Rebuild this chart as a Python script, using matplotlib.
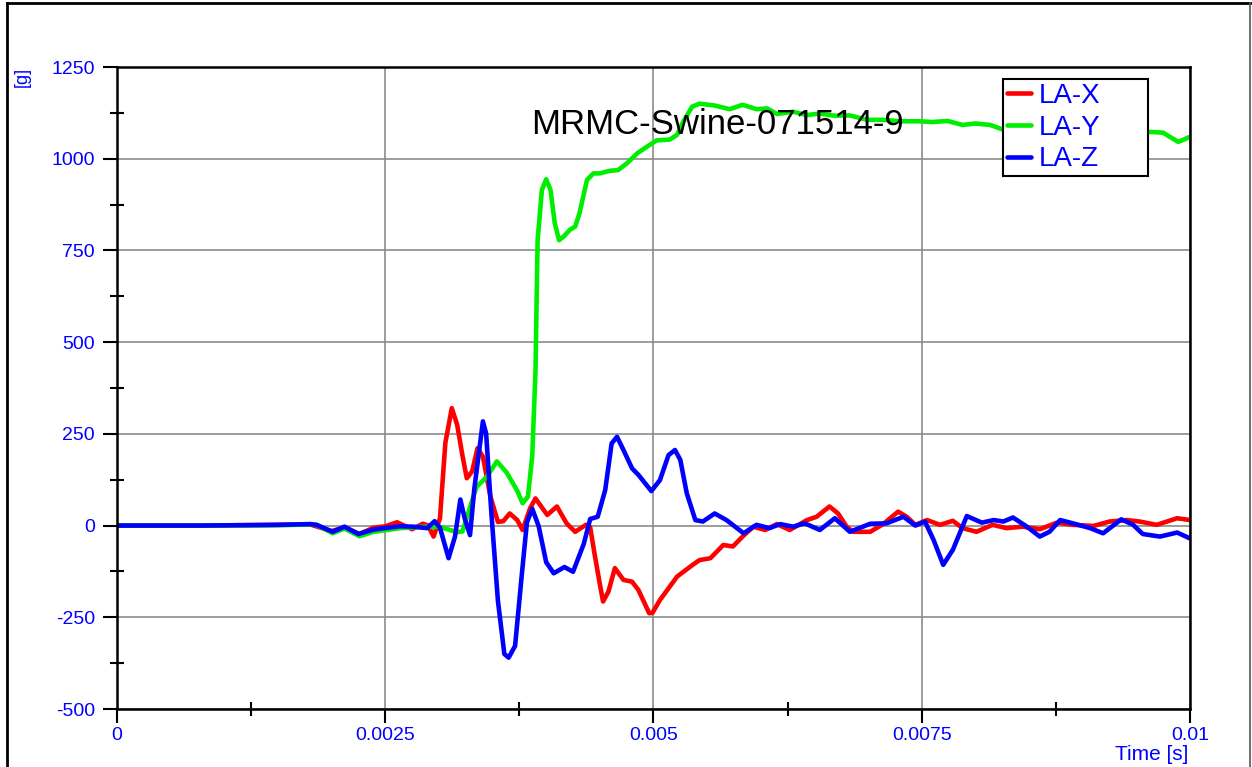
import numpy as np
import matplotlib
matplotlib.use("Agg")
import matplotlib.pyplot as plt
from matplotlib.lines import Line2D
from matplotlib.ticker import MultipleLocator, FuncFormatter

plt.rcParams['font.family'] = ['Liberation Sans', 'DejaVu Sans']
plt.rcParams['axes.unicode_minus'] = False

# --- data (time in ms, acceleration in g) ---
t_x = [0, 0.77, 1.50, 1.80, 2.00, 2.12, 2.26, 2.39, 2.50, 2.61, 2.75, 2.85, 2.90, 2.95,
       3.01, 3.06, 3.12, 3.17, 3.22, 3.26, 3.31, 3.36, 3.41, 3.48, 3.55, 3.60, 3.66, 3.73,
       3.78, 3.85, 3.90, 4.01, 4.10, 4.19, 4.27, 4.37, 4.41, 4.45, 4.50, 4.53, 4.58, 4.64,
       4.72, 4.80, 4.86, 4.96, 4.99, 5.06, 5.22, 5.37, 5.43, 5.53, 5.65, 5.74, 5.83, 5.93,
       6.04, 6.15, 6.27, 6.43, 6.52, 6.64, 6.72, 6.80, 6.86, 7.02, 7.14, 7.28, 7.36, 7.44,
       7.55, 7.67, 7.79, 7.88, 8.01, 8.16, 8.29, 8.44, 8.60, 8.76, 8.91, 9.10, 9.25, 9.41,
       9.53, 9.69, 9.88, 10.0]
la_x = [0, 0, 2, 3, -15, -5, -23, -6, -2, 9, -10, 5, 0, -30,
        20, 225, 320, 275, 190, 129, 148, 211, 188, 79, 10, 12, 33, 15,
        -12, 47, 74, 29, 52, 6, -17, 2, -5, -76, -160, -207, -180, -116,
        -148, -153, -176, -239, -238, -203, -139, -106, -94, -89, -53, -57, -30, -3,
        -12, 4, -12, 15, 24, 52, 33, -3, -17, -17, 4, 38, 24, 2,
        15, 2, 13, -7, -17, 2, -7, -3, -10, 8, 2, -1, 11, 15,
        11, 2, 20, 15]

t_y = [0, 0.77, 1.52, 1.80, 1.86, 2.01, 2.12, 2.26, 2.39, 2.52, 2.64, 2.89, 3.01, 3.08,
       3.17, 3.22, 3.29, 3.35, 3.45, 3.54, 3.63, 3.73, 3.78, 3.83, 3.87, 3.90, 3.92, 3.96,
       4.00, 4.04, 4.08, 4.12, 4.16, 4.22, 4.27, 4.31, 4.38, 4.44, 4.50, 4.59, 4.67, 4.75,
       4.85, 4.94, 5.03, 5.15, 5.22, 5.27, 5.36, 5.43, 5.57, 5.71, 5.83, 5.96, 6.06, 6.15,
       6.30, 6.43, 6.55, 6.69, 6.83, 6.99, 7.14, 7.30, 7.48, 7.60, 7.74, 7.88, 8.00, 8.14,
       8.27, 8.70, 9.16, 9.63, 9.75, 9.81, 9.89, 9.95, 10.0]
la_y = [0, 0, 1, 3, 2, -21, -8, -29, -17, -12, -7, -3, -4, -10,
        -18, -16, 50, 105, 134, 175, 145, 95, 61, 79, 190, 420, 778, 915,
        944, 915, 824, 778, 787, 806, 815, 851, 942, 960, 960, 967, 969, 987,
        1015, 1033, 1050, 1052, 1065, 1097, 1142, 1150, 1145, 1135, 1147, 1135, 1137, 1122,
        1128, 1119, 1123, 1117, 1118, 1106, 1106, 1102, 1102, 1100, 1103, 1092, 1096, 1092,
        1078, 1072, 1070, 1073, 1071, 1060, 1046, 1053, 1060]

t_z = [0, 0.77, 1.50, 1.80, 1.86, 2.01, 2.12, 2.25, 2.39, 2.52, 2.64, 2.76, 2.89, 2.96,
       3.01, 3.09, 3.15, 3.20, 3.24, 3.29, 3.33, 3.41, 3.44, 3.49, 3.55, 3.61, 3.65, 3.71,
       3.77, 3.82, 3.87, 3.93, 4.00, 4.07, 4.17, 4.25, 4.35, 4.41, 4.48, 4.55, 4.61, 4.66,
       4.72, 4.80, 4.86, 4.98, 5.06, 5.14, 5.20, 5.25, 5.31, 5.39, 5.46, 5.57, 5.68, 5.84,
       5.96, 6.08, 6.18, 6.30, 6.41, 6.55, 6.69, 6.83, 7.02, 7.17, 7.33, 7.44, 7.53, 7.61,
       7.70, 7.79, 7.92, 8.06, 8.17, 8.26, 8.35, 8.48, 8.60, 8.69, 8.79, 8.91, 9.07, 9.19,
       9.36, 9.47, 9.56, 9.72, 9.88, 10.0]
la_z = [0, 0, 2, 4, 2, -17, -3, -23, -11, -6, -2, -3, -7, 12,
        -6, -89, -30, 71, 20, -26, 100, 284, 251, 30, -205, -350, -360, -328,
        -142, 8, 46, -2, -100, -130, -113, -126, -50, 18, 24, 97, 224, 242,
        206, 156, 138, 94, 124, 192, 206, 179, 88, 15, 11, 33, 15, -21,
        2, -7, 4, -3, 6, -12, 20, -17, 5, 6, 24, 0, 11, -39,
        -107, -66, 26, 8, 15, 11, 22, -3, -30, -17, 15, 6, -7, -21,
        17, 2, -23, -30, -19, -35]

series = [("LA-X", t_x, la_x, "#ff0000"),
          ("LA-Y", t_y, la_y, "#00ee00"),
          ("LA-Z", t_z, la_z, "#0000ff")]

W, H = 1252, 767
fig = plt.figure(figsize=(W / 100, H / 100), dpi=100)
ax = fig.add_axes([117 / W, 1 - 709 / H, (1190 - 117) / W, (709 - 67) / H])

for name, t, v, c in series:
    ax.plot(np.array(t) * 1e-3, v, color=c, lw=3.3, label=name,
            solid_joinstyle="round", solid_capstyle="round")

ax.set_xlim(0, 0.01)
ax.set_ylim(-500, 1250)
ax.xaxis.set_major_locator(MultipleLocator(0.0025))
ax.xaxis.set_minor_locator(MultipleLocator(0.00125))
ax.yaxis.set_major_locator(MultipleLocator(250))
ax.yaxis.set_minor_locator(MultipleLocator(125))
ax.xaxis.set_major_formatter(FuncFormatter(lambda v, p: f"{round(v, 5):g}"))
ax.yaxis.set_major_formatter(FuncFormatter(lambda v, p: f"{int(round(v))}"))

ax.grid(True, which="major", color="#8c8c8c", lw=1.2)
ax.tick_params(which="major", direction="out", length=10, width=1.5,
               labelcolor="blue", labelsize=14)
ax.tick_params(which="minor", direction="inout", length=10, width=1.5)
ax.tick_params(axis="y", which="major", pad=6)
ax.tick_params(axis="x", which="major", pad=3)
for s in ax.spines.values():
    s.set_linewidth(1.8)
    s.set_color("black")

ax.text(0.56, 0.911, "MRMC-Swine-071514-9", transform=ax.transAxes,
        ha="center", va="center", fontsize=25, color="black")

leg = ax.legend(loc="upper left", bbox_to_anchor=(0.8257, 0.838, 0.1351, 0.1433),
                mode="expand", borderaxespad=0, fontsize=20, labelcolor="blue",
                fancybox=False, framealpha=1, edgecolor="black",
                handlelength=0.85, handletextpad=0.3, labelspacing=0.2,
                borderpad=0.15)
leg.get_frame().set_linewidth(1.5)

fig.text(22 / W, 1 - 77 / H, "[g]", rotation=90, ha="center", va="center",
         color="blue", fontsize=13)
fig.text(1188 / W, 1 - 754 / H, "Time [s]", ha="right", va="center",
         color="blue", fontsize=15)

# outer frame
fig.add_artist(Line2D([7 / W, 7 / W], [0, 1 - 3 / H], transform=fig.transFigure, color="black", lw=2))
fig.add_artist(Line2D([7 / W, 1250 / W], [1 - 3 / H, 1 - 3 / H], transform=fig.transFigure, color="black", lw=2))
fig.add_artist(Line2D([1250 / W, 1250 / W], [0, 1 - 3 / H], transform=fig.transFigure, color="#555555", lw=1.2))

fig.savefig("out.png", dpi=100)
